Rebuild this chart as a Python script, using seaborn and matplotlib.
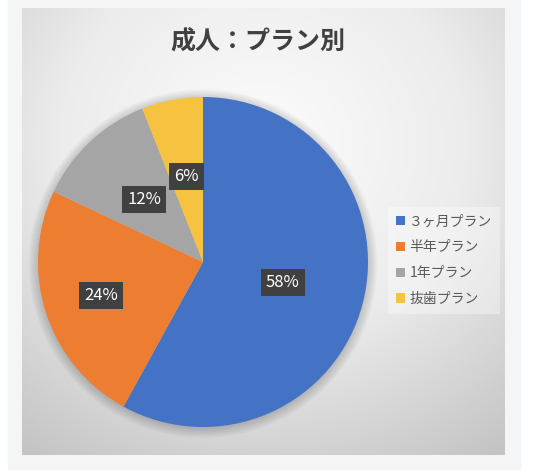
import matplotlib.pyplot as plt
import numpy as np
import seaborn as sns
from matplotlib.colors import LinearSegmentedColormap
from matplotlib.patches import Circle, Rectangle

title = '成人：プラン別'
plans = ['３ヶ月プラン', '半年プラン', '1年プラン', '抜歯プラン']
shares = [58, 24, 12, 6]
plan_colors = ['#4472C4', '#ED7D31', '#A5A5A5', '#F7C240']
label_r = [0.5, 0.65, 0.52, 0.53]

sns.set_theme(style='white')
plt.rcParams['font.family'] = ['Noto Sans CJK JP', 'DejaVu Sans']

W, H = 534, 476
fig = plt.figure(figsize=(W / 100, H / 100), dpi=100, facecolor='white')


def fig_box(x0, y0, x1, y1):
    # pixel box, top-left origin -> figure fraction
    return [x0 / W, 1 - y1 / H, (x1 - x0) / W, (y1 - y0) / H]


# light card behind the chart
fig.patches.append(Rectangle((8 / W, 1 - 469 / H), 512 / W, 469 / H,
                             transform=fig.transFigure, color='#f4f5f7', zorder=-5))

# chart area with radial gradient like Excel
bg = fig.add_axes(fig_box(22, 8, 505, 455))
yy, xx = np.mgrid[0:1:300j, 0:1:300j]
dist = np.sqrt((xx - 0.5) ** 2 + (yy - 0.3) ** 2)
grad = LinearSegmentedColormap.from_list('bg', ['#fcfcfc', '#ececec', '#c4c4c4'])
bg.imshow(dist, cmap=grad, vmin=0, vmax=0.85, aspect='auto',
          extent=(0, 1, 1, 0), interpolation='bilinear')
bg.set_axis_off()

# pie
ax = fig.add_axes(fig_box(38, 97, 368, 427))
for k in range(8):
    ax.add_patch(Circle((0.0, -0.01), 1.0 + 0.008 * k, color='black',
                        alpha=0.025, lw=0, clip_on=False))
wedges, _, autotexts = ax.pie(
    shares, colors=plan_colors, startangle=90, counterclock=False,
    autopct=lambda p: f'{p:.0f}%', pctdistance=0.55,
    wedgeprops=dict(linewidth=0))
ax.set_xlim(-1, 1)
ax.set_ylim(-1, 1)
ax.set_aspect('equal')
ax.patch.set_visible(False)

for w, t, d in zip(wedges, autotexts, label_r):
    ang = np.deg2rad((w.theta1 + w.theta2) / 2)
    t.set_position((d * np.cos(ang), d * np.sin(ang)))
    t.set_color('white')
    t.set_fontsize(12)
    t.set_bbox(dict(boxstyle='square,pad=0.3', facecolor='#404040',
                    edgecolor='none'))

fig.text(258 / W, 1 - 42 / H, title, ha='center', va='center',
         fontsize=18, fontweight='bold', color='#404040')

leg = fig.legend(wedges, plans, loc='upper left',
                 bbox_to_anchor=(381 / W, 1 - 200 / H),
                 fontsize=10, labelspacing=0.85, handlelength=0.65,
                 handleheight=0.65, handletextpad=0.35, borderpad=0.55,
                 frameon=True, fancybox=False)
leg.get_frame().set_facecolor('white')
leg.get_frame().set_alpha(0.35)
leg.get_frame().set_edgecolor('none')
for txt in leg.get_texts():
    txt.set_color('#595959')

fig.savefig('out.png', dpi=100)
